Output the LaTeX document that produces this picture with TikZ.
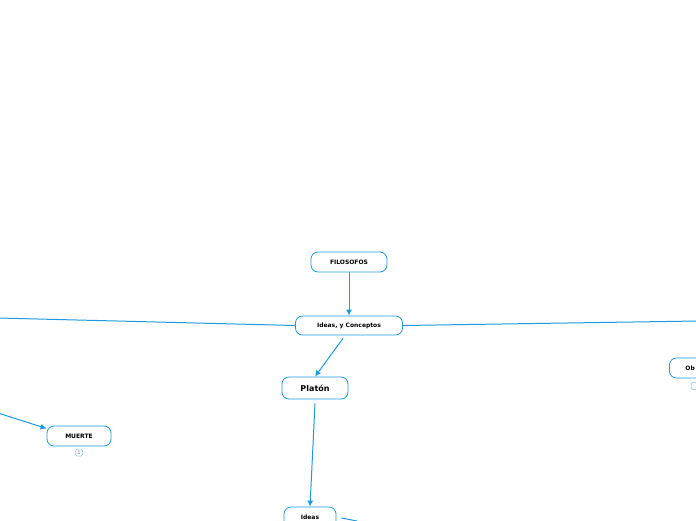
\documentclass[tikz,border=0pt]{standalone}
\usepackage{fontspec}
\setmainfont{DejaVu Sans}
\usepackage{xcolor}
\usetikzlibrary{positioning,arrows.meta}

\definecolor{mapblue}{HTML}{1E9AE0}
\definecolor{badgeblue}{HTML}{7CC4EE}

\begin{document}
\begin{tikzpicture}[
  x=1pt,y=-1pt,
  topic/.style={draw=mapblue,line width=0.8pt,rounded corners=7pt,fill=white,
                minimum height=20pt,inner xsep=4pt,font=\bfseries\fontsize{6}{7}\selectfont},
  bigtopic/.style={topic,minimum height=22pt,font=\bfseries\fontsize{8}{9}\selectfont},
  badge/.style={draw=badgeblue,line width=0.5pt,rounded corners=1.5pt,inner sep=0.8pt,
                minimum size=7pt,text=gray,font=\fontsize{5}{5}\selectfont},
  link/.style={draw=mapblue,line width=1pt,-{Latex[length=6pt,width=6pt]}},
  plain/.style={draw=mapblue,line width=1pt}
]
\useasboundingbox (0,0) rectangle (696,520);
\clip (0,0) rectangle (696,520);

% main topics
\node[topic,minimum width=76pt] (filosofos) at (349,262) {FILOSOFOS};
\node[topic,minimum width=107pt,minimum height=19pt] (ideasc) at (349,325.5) {Ideas, y Conceptos};
\node[bigtopic,minimum width=66pt] (platon) at (315,388) {Platón};
\node[topic,minimum width=52pt,minimum height=22pt] (ideas) at (310,518) {\raisebox{2pt}{Ideas}};
\node[topic,minimum width=64pt] (muerte) at (79,436) {MUERTE};
\node[badge] (muertebadge) at (79,452.5) {1};
\node[topic,anchor=west,minimum width=60pt,text width=40pt,align=left,inner xsep=16pt] (obj) at (669,368) {Ob};
\node[badge] (objbadge) at (694.5,386) {};

% free ends outside the frame
\coordinate (leftend) at (-2,318);
\coordinate (rightend) at (698,321);
\coordinate (muertefrom) at (-2,413);
\coordinate (ideasout) at (357,521);

% connectors
\draw[link] (filosofos) -- (ideasc);
\draw[plain] (ideasc.west) -- (leftend);
\draw[plain] (ideasc.east) -- (rightend);
\draw[link] (ideasc.south) ++(-6,3) coordinate (ic) (ic) -- (platon.north);
\draw[link] (platon.south) ++(0,4) coordinate (pl) (pl) -- (ideas.north);
\draw[link] (muertefrom) -- (muerte.167);
\draw[plain] (ideas.east) ++(5,0) coordinate (id) (id) -- (ideasout);
\end{tikzpicture}
\end{document}
